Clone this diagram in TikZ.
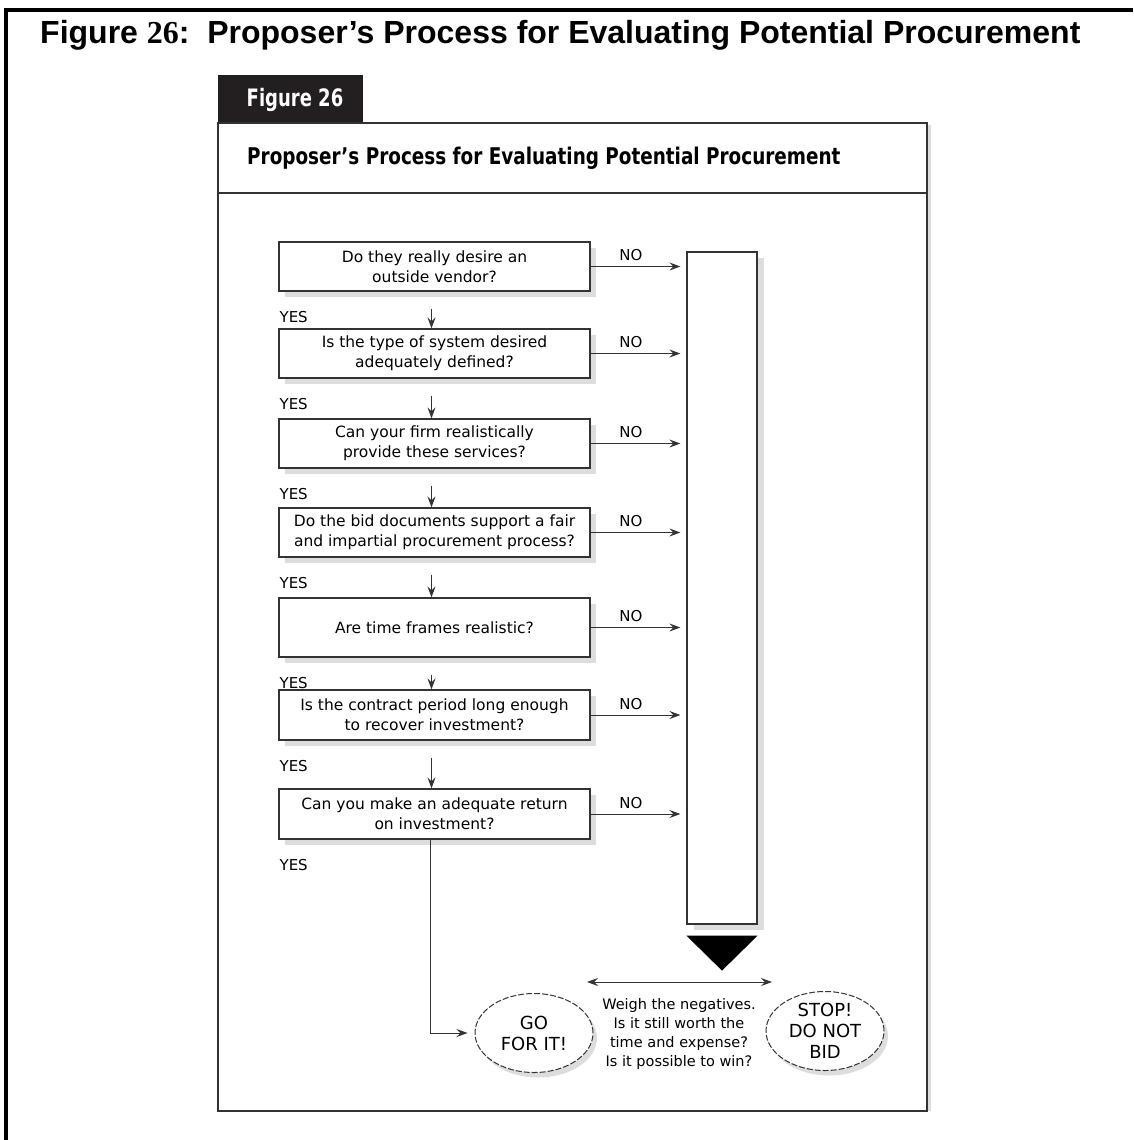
\documentclass[tikz,border=0pt]{standalone}
\usepackage{fontspec}
\setmainfont{DejaVu Sans}
\newfontfamily\titlefont{Liberation Sans}
\newfontfamily\numfont{Liberation Serif}
\usetikzlibrary{arrows.meta, positioning, shapes.geometric}
\definecolor{tabcol}{HTML}{231F20}
\definecolor{linecol}{HTML}{333333}
\definecolor{shadecol}{HTML}{DDDDDD}
\newcommand{\heavy}[2][0.75]{\scalebox{#1}[1]{\bfseries #2}}
\tikzset{
  fstealth/.tip={Stealth[length=11pt, width=8pt, inset=4pt]},
  qbox/.style={rectangle, draw=linecol, line width=1.2pt, fill=white, minimum width=311pt, minimum height=49pt, inner sep=0pt, align=center, font=\fontsize{15.5}{20}\selectfont, preaction={fill=shadecol, transform canvas={xshift=6pt, yshift=-6pt}}},
  nobox/.style={rectangle, draw=linecol, line width=1.2pt, fill=white, minimum width=70pt, minimum height=672pt, inner sep=0pt, preaction={fill=shadecol, transform canvas={xshift=7pt, yshift=-6pt}}},
  endnode/.style={ellipse, draw=linecol, line width=1pt, dash pattern=on 6pt off 2pt, fill=white, minimum width=118pt, minimum height=79pt, inner sep=0pt, align=center, font=\fontsize{18}{21}\selectfont, preaction={fill=shadecol, transform canvas={xshift=4pt, yshift=-5pt}}},
  ynlbl/.style={font=\fontsize{15}{18}\selectfont, inner sep=0pt},
  arr/.style={-fstealth, draw=linecol, line width=1pt},
}

\begin{document}
\begin{tikzpicture}[x=1pt, y=-1pt]
  \useasboundingbox (0,0) rectangle (1133,1140);
  % page frame and caption
  \draw[line width=4pt] (6,1140) -- (6,10) -- (1133,10);
  \node[anchor=base west, inner sep=0pt, font=\titlefont\bfseries\fontsize{32}{36}\selectfont] (title) at (40,44) {Figure {\numfont\bfseries 26}:\ \ Proposer’s Process for Evaluating Potential Procurement};

  % figure panel
  \fill[tabcol] (218,75) rectangle (363,123);
  \node[text=white, font=\fontsize{24}{26}\selectfont] (tab) at (295,100) {\heavy{Figure 26}};
  \draw[shadecol, line width=3pt] (929.5,125) -- (929.5,1111);
  \draw[linecol, line width=1.5pt] (218,123) rectangle (927,1111);
  \draw[linecol, line width=1.5pt] (218,193) -- (927,193);
  \node[anchor=west, inner sep=0pt, font=\fontsize{23}{25}\selectfont] (subtitle) at (247,158) {\heavy[0.8]{Proposer’s Process for Evaluating Potential Procurement}};

  % questions
  \node[qbox] (q1) at (434.5,266.5) {Do they really desire an\\outside vendor?};
  \node[qbox] (q2) at (434.5,353.5) {Is the type of system desired\\adequately defined?};
  \node[qbox] (q3) at (434.5,443.5) {Can your firm realistically\\provide these services?};
  \node[qbox] (q4) at (434.5,532.5) {Do the bid documents support a fair\\and impartial procurement process?};
  \node[qbox, minimum height=59pt] (q5) at (434.5,627.5) {Are time frames realistic?};
  \node[qbox, minimum height=50pt] (q6) at (434.5,715) {Is the contract period long enough\\to recover investment?};
  \node[qbox, minimum height=50pt] (q7) at (434.5,814) {Can you make an adequate return\\on investment?};

  \node[nobox] (nocol) at (722,588) {};
  \fill ([yshift=-11pt]nocol.south west) -- ([yshift=-11pt]nocol.south east) -- ([yshift=-46pt]nocol.south) -- cycle;

  % NO branches
  \foreach \q in {q1,q2,q3,q4,q5,q6,q7}
    \draw[arr, shorten >=6pt] (\q.east) -- node[ynlbl, above=5pt, pos=0.42] {NO} (\q.east -| nocol.west);

  % YES branches
  \foreach \a/\b in {q1/q2,q2/q3,q3/q4,q4/q5,q5/q6,q6/q7}
    \draw[arr, shorten <=17pt] ([xshift=-3pt]\a.south) -- ([xshift=-3pt]\b.north);
  \foreach \q in {q1,q2,q3,q4,q5,q6,q7}
    \node[ynlbl, anchor=west] at ([xshift=1pt, yshift=-25pt]\q.south west) {YES};

  % outcomes
  \node[endnode] (go) at (534,1033) {GO\\FOR IT!};
  \node[endnode] (stop) at (825,1031) {STOP!\\DO NOT\\BID};
  \node[align=center, inner sep=0pt, font=\fontsize{14.5}{19}\selectfont] (weigh) at (679,1034) {Weigh the negatives.\\Is it still worth the\\time and expense?\\Is it possible to win?};
  \coordinate (wl) at (587,982);
  \coordinate (wr) at (772,982);
  \draw[fstealth-fstealth, draw=linecol, line width=1pt] (wl) -- (wr);
  \draw[arr, shorten >=7pt] ([xshift=-4pt]q7.south) |- (go.west);
\end{tikzpicture}
\end{document}
